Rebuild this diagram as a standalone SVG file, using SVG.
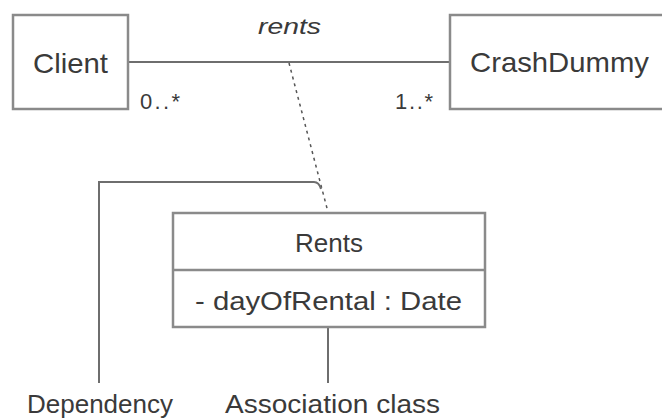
<svg xmlns="http://www.w3.org/2000/svg" width="662" height="419" viewBox="0 0 662 419">
<style>
.box{fill:#fff;stroke:#8a8a8a;stroke-width:2.5}
.ln{fill:none;stroke:#6e6e6e;stroke-width:2}
.dash{fill:none;stroke:#555;stroke-width:1.5;stroke-dasharray:3 4}
.t{font-family:"Liberation Sans",Arial,sans-serif;fill:#3a3a3a}
</style>
<rect width="662" height="419" fill="#fff"/>
<g id="connectors">
<line class="ln" x1="129" y1="62" x2="450" y2="62"/>
<line class="dash" x1="289" y1="63" x2="328" y2="212"/>
<path class="ln" d="M99,383 V182 H314 Q319,182 321,189"/>
<line class="ln" x1="328" y1="328" x2="328" y2="383"/>
<text class="t" x="258" y="34" font-size="22" font-style="italic" textLength="63" lengthAdjust="spacingAndGlyphs">rents</text>
<text class="t" x="140" y="109" font-size="22" textLength="40" lengthAdjust="spacing">0..*</text>
<text class="t" x="395" y="109" font-size="22" textLength="38" lengthAdjust="spacing">1..*</text>
</g>
<g id="client">
<rect class="box" x="13" y="15" width="115" height="94"/>
<text class="t" x="33" y="73" font-size="28" textLength="75" lengthAdjust="spacingAndGlyphs">Client</text>
</g>
<g id="crashdummy">
<rect class="box" x="450" y="15" width="220" height="94"/>
<text class="t" x="470" y="72" font-size="28" textLength="179" lengthAdjust="spacingAndGlyphs">CrashDummy</text>
</g>
<g id="rents">
<rect class="box" x="173" y="213" width="312" height="114"/>
<line class="box" x1="173" y1="270" x2="485" y2="270"/>
<text class="t" x="329" y="252" font-size="26" text-anchor="middle">Rents</text>
<text class="t" x="195" y="310" font-size="26" textLength="267" lengthAdjust="spacingAndGlyphs">- dayOfRental : Date</text>
</g>
<g id="dependency-label">
<text class="t" x="27" y="413" font-size="26" textLength="146" lengthAdjust="spacingAndGlyphs">Dependency</text>
</g>
<g id="association-class-label">
<text class="t" x="225" y="413" font-size="26" textLength="215" lengthAdjust="spacingAndGlyphs">Association class</text>
</g>
</svg>
